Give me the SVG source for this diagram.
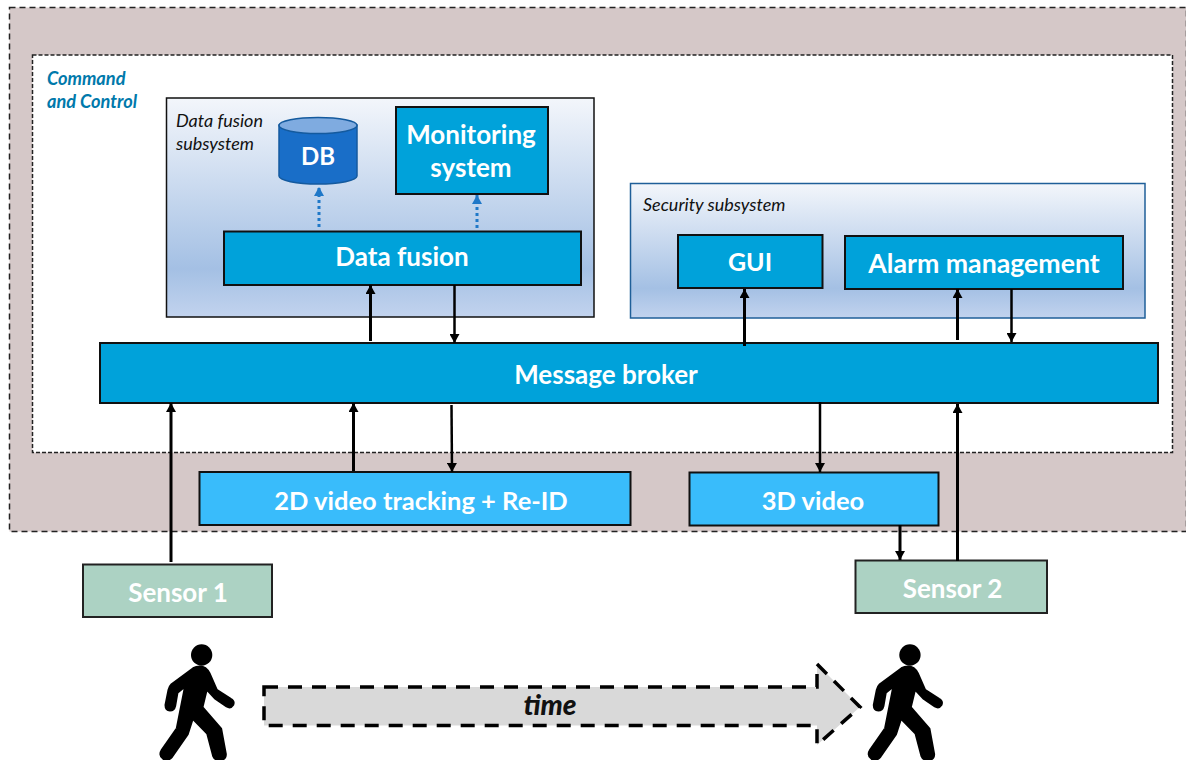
<svg xmlns="http://www.w3.org/2000/svg" width="1186" height="760" viewBox="0 0 1186 760">
<style>
text{font-family:"Lato","Open Sans","Liberation Sans",sans-serif}
.box{fill:#00a2da;stroke:#111;stroke-width:2}
.lite{fill:#39bcfb;stroke:#111;stroke-width:2}
.sensor{fill:#acd2c3;stroke:#222;stroke-width:2}
.t{fill:#fff;font-weight:700;font-size:26px;text-anchor:middle}
.it{fill:#111;font-style:italic;font-size:18px}
.cc{fill:#0079ab;font-style:italic;font-weight:700;font-size:18.200px}
.a{stroke:#000;fill:none}
.d{stroke:#1f78c8;stroke-width:3;stroke-dasharray:3 3;fill:none}
</style>
<defs>
<linearGradient id="g" x1="0" y1="0" x2="0" y2="1">
<stop offset="0" stop-color="#f3f6fb"/><stop offset="0.78" stop-color="#a4c0e4"/><stop offset="1" stop-color="#c2d3ee"/>
</linearGradient>
<marker id="ah" markerUnits="userSpaceOnUse" markerWidth="10" markerHeight="10" refX="9" refY="5" orient="auto"><path d="M0 0L9 5L0 10z" fill="#000"/></marker>
<marker id="ad" markerUnits="userSpaceOnUse" markerWidth="10" markerHeight="10" refX="9" refY="5" orient="auto"><path d="M0 0L9 5L0 10z" fill="#1f78c8"/></marker>
<g id="person">
<circle cx="605" cy="75" r="32"/>
<path stroke="#000" stroke-width="7" stroke-linejoin="round" d="M580 115L515 163Q508 170 506 180L497 225Q497 240 510 241Q522 241 525 228L532 188L556 168L531 295L486 360Q476 376 490 386Q504 394 516 380L563 312L578 265L622 310L640 378Q645 390 660 390Q678 388 677 372L663 296L607 232L620 178L645 205L680 229Q692 236 699 225Q704 214 692 207L650 180L628 130Q618 110 600 110Q588 110 580 115Z"/>
</g>
</defs>

<g id="outer"><rect x="9.500" y="7.500" width="1177" height="524" fill="#d5c8c8" stroke="#222" stroke-width="1.500" stroke-dasharray="6 4"/></g>
<g id="command-control">
<rect x="32.500" y="55" width="1140" height="397.500" fill="#fff" stroke="#222" stroke-width="1.500" stroke-dasharray="4 2"/>
<text class="cc" x="47" y="85">Command</text>
<text class="cc" x="47" y="108">and Control</text>
</g>
<g id="data-fusion-subsystem">
<rect x="166.500" y="98" width="427.500" height="219" fill="url(#g)" stroke="#111" stroke-width="1.500"/>
<text class="it" x="176" y="127">Data fusion</text>
<text class="it" x="176" y="150">subsystem</text>
</g>
<g id="db">
<path d="M279 125V176A39 8 0 0 0 357 176V125Z" fill="#196ec8" stroke="#145a9e" stroke-width="1.500"/>
<ellipse cx="318" cy="125.500" rx="39" ry="8" fill="#7fabe0" stroke="#145a9e" stroke-width="1.500"/>
<text class="t" x="318" y="165" style="font-size:24px">DB</text>
</g>
<g id="monitoring"><rect class="box" x="396" y="107" width="152" height="87"/><text class="t" x="471" y="144">Monitoring</text><text class="t" x="471" y="177">system</text></g>
<g id="data-fusion"><rect class="box" x="224" y="231.500" width="357" height="53.500"/><text class="t" x="402" y="266">Data fusion</text></g>
<g id="security-subsystem">
<rect x="630.500" y="183.500" width="514.500" height="134.500" fill="url(#g)" stroke="#1f5f99" stroke-width="1.500"/>
<text class="it" x="643" y="211">Security subsystem</text>
</g>
<g id="gui"><rect class="box" x="678" y="235" width="144.500" height="53"/><text class="t" x="750" y="271" style="font-size:25px">GUI</text></g>
<g id="alarm"><rect class="box" x="845" y="236" width="278" height="53"/><text class="t" x="984" y="273" style="font-size:26.700px">Alarm management</text></g>
<g id="broker"><rect class="box" x="100" y="343" width="1058" height="60"/><text class="t" x="606" y="384">Message broker</text></g>
<g id="tracking"><rect class="lite" x="199.500" y="472" width="431" height="53"/><text class="t" x="421" y="510" style="font-size:25.500px">2D video tracking + Re-ID</text></g>
<g id="video3d"><rect class="lite" x="689.500" y="472.500" width="249" height="53"/><text class="t" x="813" y="510" style="font-size:25.500px">3D video</text></g>
<g id="sensor1"><rect class="sensor" x="83" y="564.500" width="189" height="52.500"/><text class="t" x="178" y="602">Sensor 1</text></g>
<g id="sensor2"><rect class="sensor" x="855.500" y="560.500" width="191.500" height="52.500"/><text class="t" x="952.500" y="598">Sensor 2</text></g>

<g id="connectors">
<path class="a" stroke-width="3" d="M370.500 341V285" marker-end="url(#ah)"/>
<path class="a" stroke-width="2.500" d="M454.500 285V343" marker-end="url(#ah)"/>
<path class="a" stroke-width="3" d="M744.500 346V289" marker-end="url(#ah)"/>
<path class="a" stroke-width="3" d="M957.500 340V289" marker-end="url(#ah)"/>
<path class="a" stroke-width="2.500" d="M1011.500 289V342" marker-end="url(#ah)"/>
<path class="a" stroke-width="3" d="M171 562V403" marker-end="url(#ah)"/>
<path class="a" stroke-width="3" d="M353.500 471V403" marker-end="url(#ah)"/>
<path class="a" stroke-width="2.500" d="M451.500 405L452 472" marker-end="url(#ah)"/>
<path class="a" stroke-width="2.500" d="M820 402V472" marker-end="url(#ah)"/>
<path class="a" stroke-width="3" d="M900 525V560" marker-end="url(#ah)"/>
<path class="a" stroke-width="3" d="M957.500 561V404" marker-end="url(#ah)"/>
<path class="d" d="M319 227V187" marker-end="url(#ad)"/>
<path class="d" d="M477 228V195" marker-end="url(#ad)"/>
</g>

<g id="time">
<path d="M264 687H817V664L860 707L817 745V725.500H264Z" fill="#d9d9d9" stroke="#000" stroke-width="3.500" stroke-dasharray="14 10"/>
<text x="550" y="715" font-size="28" font-weight="900" font-style="italic" fill="#111" text-anchor="middle">time</text>
</g>
<g id="person1"><use href="#person" transform="translate(0 630) scale(0.3333)"/></g>
<g id="person2"><use href="#person" transform="translate(708.300 630) scale(0.3333)"/></g>
</svg>
